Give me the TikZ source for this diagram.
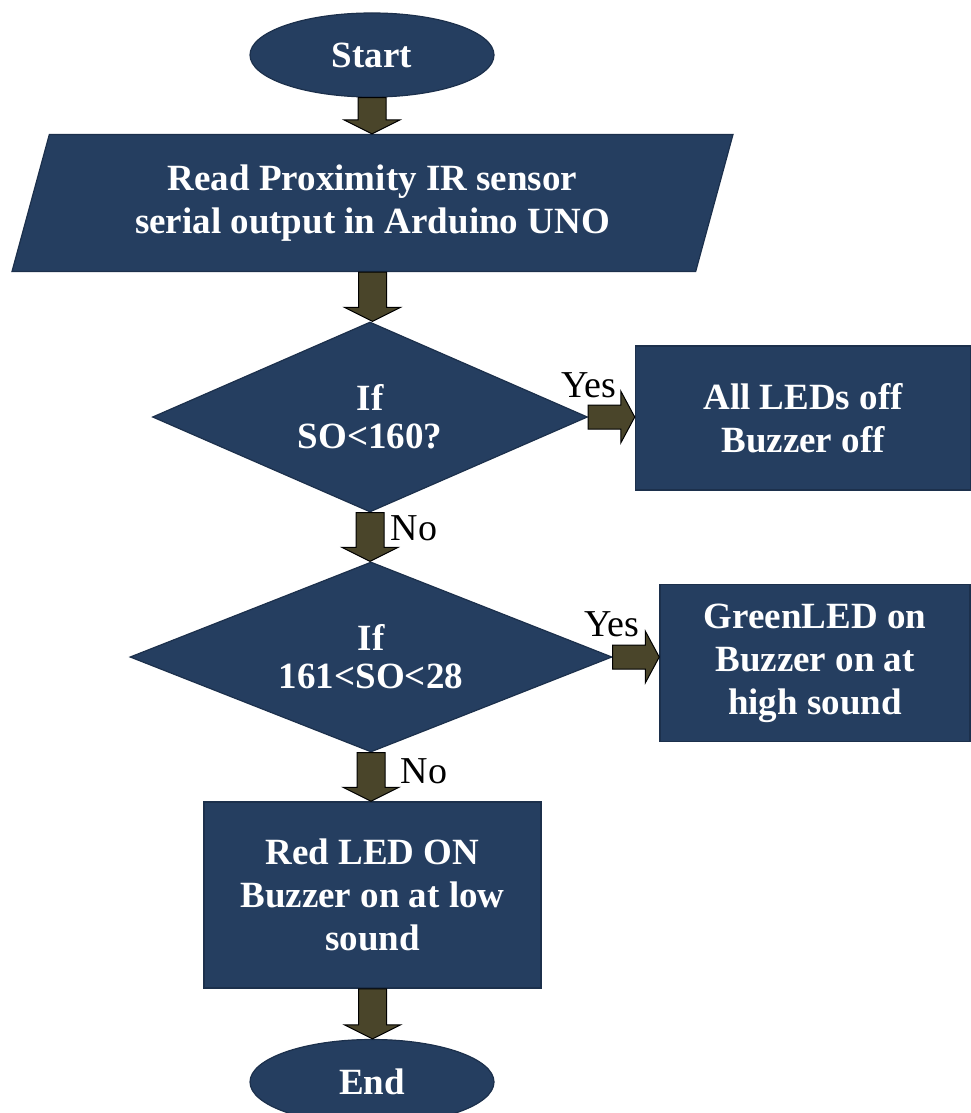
\documentclass[tikz,border=0pt]{standalone}
\usepackage{fontspec}
\setmainfont{Liberation Serif}
\usetikzlibrary{shapes.geometric,calc}
\definecolor{boxblue}{RGB}{37,62,96}
\definecolor{boxedge}{RGB}{28,48,76}
\definecolor{arrowolive}{RGB}{74,69,42}
\tikzset{
  startstop/.style={ellipse,fill=boxblue,draw=boxedge,line width=1.2pt,inner sep=0pt,
    minimum width=244,minimum height=84,text=white,font=\bfseries\fontsize{37}{43}\selectfont},
  iobox/.style={trapezium,trapezium left angle=64,trapezium right angle=116,
    trapezium stretches body,fill=boxblue,draw=boxedge,line width=1.2pt,inner sep=0pt,
    minimum width=721,minimum height=137,text=white,align=center,
    font=\bfseries\fontsize{37}{43}\selectfont},
  decision/.style={diamond,fill=boxblue,draw=boxedge,line width=1.2pt,inner sep=0pt,
    text=white,align=center,font=\bfseries\fontsize{37}{38}\selectfont},
  process/.style={rectangle,fill=boxblue,draw=boxedge,line width=1.5pt,inner sep=0pt,
    text=white,align=center,font=\bfseries\fontsize{37}{43}\selectfont},
  blockarrow/.style={fill=arrowolive,draw=black,line width=1pt,line join=miter},
  branchlabel/.style={anchor=base,inner sep=0pt,font=\fontsize{38}{40}\selectfont}
}
% block arrows between named nodes
\newcommand{\blkdown}[2]{%
  \draw[blockarrow] let \p1=(#1.south),\p2=(#2.north) in
    (\x1-14pt,\y1) -- (\x1+14pt,\y1) -- (\x1+14pt,\y2+14pt) -- (\x1+28pt,\y2+14pt)
    -- (\x1,\y2) -- (\x1-28pt,\y2+14pt) -- (\x1-14pt,\y2+14pt) -- cycle;}
\newcommand{\blkright}[2]{%
  \draw[blockarrow] let \p1=(#1.east),\p2=(#2.west) in
    (\x1,\y1+12pt) -- (\x2-14pt,\y1+12pt) -- (\x2-14pt,\y1+26pt) -- (\x2,\y1)
    -- (\x2-14pt,\y1-26pt) -- (\x2-14pt,\y1-12pt) -- (\x1,\y1-12pt) -- cycle;}

\begin{document}
\begin{tikzpicture}[x=1pt,y=-1pt]
  \useasboundingbox (0,0) rectangle (970,1113);
  \node[startstop] (start) at (372,55) {Start};
  \node[iobox] (read) at (372.5,203) {Read Proximity IR sensor\\serial output in Arduino UNO};
  \node[decision,aspect=2.29,minimum width=435,minimum height=190] (check1) at (370,417) {If\\SO<160?};
  \node[process,minimum width=335,minimum height=144] (alloff) at (803,418) {All LEDs off\\Buzzer off};
  \node[decision,aspect=2.54,minimum width=482,minimum height=190] (check2) at (371,657) {If\\161<SO<28};
  \node[process,minimum width=310,minimum height=157] (green) at (815,663) {GreenLED on\\Buzzer on at\\high sound};
  \node[process,minimum width=337,minimum height=186] (red) at (372.5,895) {Red LED ON\\Buzzer on at low\\sound};
  \node[startstop,minimum height=85] (end) at (372,1082) {End};

  \blkdown{start}{read}
  \blkdown{read}{check1}
  \blkdown{check1}{check2}
  \blkdown{check2}{red}
  \blkdown{red}{end}
  \blkright{check1}{alloff}
  \blkright{check2}{green}

  \node[branchlabel] (yes1) at (589,397) {Yes};
  \node[branchlabel] (no1) at (414,540) {No};
  \node[branchlabel] (yes2) at (612,636) {Yes};
  \node[branchlabel] (no2) at (424,783) {No};
\end{tikzpicture}
\end{document}
